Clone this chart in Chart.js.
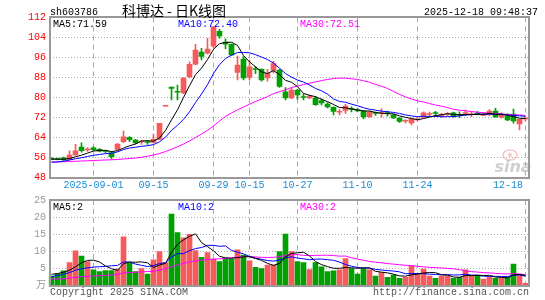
<!DOCTYPE html>
<html>
<head>
<meta charset="utf-8">
<script src="https://cdn.jsdelivr.net/npm/chart.js@4.4.1/dist/chart.umd.min.js"></script>
<style>
  html, body { margin: 0; padding: 0; background: #fff; }
  #wrap { position: relative; width: 545px; height: 300px; overflow: hidden; }
  canvas { position: absolute; left: 0; }
</style>
</head>
<body>
<div id="wrap">
  <canvas id="kChart" width="545" height="192" style="top:0"></canvas>
  <canvas id="volChart" width="545" height="108" style="top:192px"></canvas>
</div>
<script>
// trading days shown on the chart
const dates = [
  "2025-08-21","2025-08-22","2025-08-25","2025-08-26","2025-08-27","2025-08-28","2025-08-29",
  "2025-09-01","2025-09-02","2025-09-03","2025-09-04","2025-09-05",
  "2025-09-08","2025-09-09","2025-09-10","2025-09-11","2025-09-12",
  "2025-09-15","2025-09-16","2025-09-17","2025-09-18","2025-09-19",
  "2025-09-22","2025-09-23","2025-09-24","2025-09-25","2025-09-26",
  "2025-09-29","2025-09-30","2025-10-09","2025-10-10",
  "2025-10-13","2025-10-14","2025-10-15","2025-10-16","2025-10-17",
  "2025-10-20","2025-10-21","2025-10-22","2025-10-23","2025-10-24",
  "2025-10-27","2025-10-28","2025-10-29","2025-10-30","2025-10-31",
  "2025-11-03","2025-11-04","2025-11-05","2025-11-06","2025-11-07",
  "2025-11-10","2025-11-11","2025-11-12","2025-11-13","2025-11-14",
  "2025-11-17","2025-11-18","2025-11-19","2025-11-20","2025-11-21",
  "2025-11-24","2025-11-25","2025-11-26","2025-11-27","2025-11-28",
  "2025-12-01","2025-12-02","2025-12-03","2025-12-04","2025-12-05",
  "2025-12-08","2025-12-09","2025-12-10","2025-12-11","2025-12-12",
  "2025-12-15","2025-12-16","2025-12-17","2025-12-18"
];

const opens = [
  55.6, 55.5, 55.9, 55.2, 57.0, 60.2, 59.0, 59.9, 59.3, 58.6,
  58.0, 59.2, 62.3, 64.1, 63.0, 62.2, 62.4, 62.0, 63.3, 76.5,
  84.2, 82.3, 81.8, 88.3, 93.3, 98.2, 97.7, 100.5, 106.5, 102.2,
  101.3, 90.0, 95.4, 88.0, 91.6, 91.3, 87.8, 90.8, 91.0, 82.3,
  79.8, 83.0, 80.3, 79.8, 79.8, 78.8, 77.4, 76.1, 74.1, 74.8,
  75.6, 75.1, 74.6, 72.3, 73.9, 73.6, 73.9, 73.0, 71.8, 70.5,
  69.8, 71.0, 72.1, 73.2, 73.8, 72.8, 73.2, 73.9, 73.2, 73.6,
  73.1, 73.7, 72.8, 73.1, 74.6, 72.1, 72.6, 73.4, 69.4, 71.4
];
const highs = [
  56.0, 55.8, 56.2, 58.7, 61.3, 61.9, 60.0, 60.3, 59.6, 59.0,
  58.4, 61.6, 66.6, 64.4, 63.3, 63.0, 62.8, 65.4, 69.7, 76.7,
  84.2, 85.0, 88.0, 94.3, 101.3, 99.7, 103.7, 108.5, 107.3, 103.5,
  101.5, 96.6, 96.4, 95.0, 92.5, 91.5, 91.3, 94.5, 91.3, 84.0,
  84.0, 83.3, 81.5, 81.0, 80.5, 79.5, 78.0, 76.3, 75.2, 77.3,
  76.3, 75.6, 74.8, 74.6, 74.3, 75.5, 74.6, 73.4, 72.0, 71.2,
  71.8, 71.8, 74.3, 74.2, 74.5, 73.7, 74.0, 74.2, 74.3, 75.0,
  74.4, 74.4, 74.0, 75.2, 75.7, 73.9, 73.6, 75.4, 71.5, 72.0
];
const lows = [
  55.0, 55.0, 54.8, 55.0, 56.8, 58.1, 58.4, 58.6, 58.2, 57.9,
  55.4, 58.8, 61.9, 62.3, 61.5, 61.2, 61.2, 61.8, 63.0, 76.5,
  79.0, 79.0, 81.5, 87.8, 93.0, 95.0, 97.3, 100.0, 103.7, 99.5,
  96.8, 87.0, 87.0, 87.0, 89.5, 86.5, 86.5, 89.8, 84.0, 79.0,
  79.5, 79.3, 79.0, 79.5, 76.8, 77.0, 75.8, 73.0, 73.0, 73.6,
  74.2, 74.3, 71.5, 72.0, 72.8, 72.1, 72.5, 71.5, 70.0, 69.8,
  69.0, 70.5, 71.8, 72.5, 72.5, 72.0, 72.7, 72.0, 72.0, 72.8,
  72.3, 73.0, 72.7, 72.6, 72.0, 71.7, 70.7, 69.7, 67.0, 70.6
];
const closes = [
  55.4, 55.3, 55.0, 57.0, 58.7, 58.7, 59.4, 59.1, 58.5, 58.4,
  56.3, 61.4, 64.3, 63.1, 61.8, 62.4, 62.0, 63.3, 69.7, 76.7,
  83.6, 82.1, 87.8, 93.3, 99.0, 96.4, 99.4, 108.3, 104.6, 101.3,
  97.0, 93.0, 87.8, 92.3, 91.2, 87.0, 89.6, 93.6, 84.4, 79.8,
  83.0, 81.0, 80.0, 80.6, 77.1, 77.8, 76.2, 74.4, 74.4, 76.6,
  75.3, 74.6, 72.2, 74.3, 73.6, 73.9, 73.6, 71.8, 70.4, 70.7,
  71.4, 71.4, 73.9, 73.5, 73.6, 73.1, 73.5, 72.4, 72.9, 74.0,
  73.3, 73.4, 73.0, 74.6, 72.2, 73.4, 71.0, 70.6, 71.3, 71.6
];
// volume, in 万
const volumes = [
  2.9, 3.6, 4.4, 6.8, 10.2, 8.7, 7.1, 4.7, 4.2, 4.5,
  4.5, 4.9, 14.3, 6.6, 4.2, 5.1, 3.5, 7.6, 10.0, 6.8,
  20.9, 15.5, 14.0, 15.0, 10.3, 8.3, 9.7, 7.8, 7.1, 8.0,
  7.8, 10.5, 9.0, 7.3, 5.4, 5.1, 6.1, 6.1, 10.0, 15.1,
  10.0, 7.1, 6.8, 4.8, 6.8, 5.6, 4.2, 4.4, 4.7, 8.0,
  5.1, 3.5, 5.1, 4.7, 2.9, 3.9, 2.5, 3.2, 2.2, 2.5,
  5.8, 3.5, 4.9, 2.9, 2.2, 2.9, 2.9, 2.2, 2.5, 4.7,
  2.9, 3.2, 2.0, 2.7, 2.2, 2.4, 2.5, 6.4, 3.2, 0.8
];

const ma5Head = [55.3, 55.3, 55.3, 55.6];
const ma10Head = [54.1, 54.2, 54.5, 55.0, 55.5, 55.9, 56.4, 56.9, 57.2];
const ma30Head = [54.2, 54.3, 54.3, 54.4, 54.5, 54.6, 54.7, 54.8, 54.9, 55.0,
  55.1, 55.2, 55.4, 55.6, 55.8, 56.1, 56.5, 57.0, 57.6, 58.4,
  59.3, 60.3, 61.4, 62.6, 64.0, 65.4, 66.9, 68.6, 70.6];
const vma5Head = [3.4, 3.6, 4.0, 4.6];
const vma10Head = [2.7, 3.0, 3.4, 3.9, 4.6, 5.0, 5.3, 5.5, 5.6];
const vma30Head = [2.0, 2.0, 2.1, 2.3, 2.5, 2.7, 2.8, 2.9, 3.0, 3.1,
  3.2, 3.4, 3.8, 3.9, 4.0, 4.1, 4.2, 4.3, 4.6, 5.0,
  5.6, 6.1, 6.6, 7.0, 7.3, 7.5, 7.7, 7.8, 7.9];

const priceTicks = [112, 104, 96, 88, 80, 72, 64, 56, 48];
const volTicks = [25, 20, 15, 10, 5];
const xTickDates = ["2025-09-01", "2025-09-15", "2025-09-29", "2025-10-15", "2025-10-27", "2025-11-10", "2025-11-24", "2025-12-18"];
const xTickLabels = ["2025-09-01", "09-15", "09-29", "10-15", "10-27", "11-10", "11-24", "12-18"];
const maTexts = ["MA5:71.59", "MA10:72.40", "MA30:72.51"];
const volMaTexts = ["MA5:2", "MA10:2", "MA30:2"];

const UP = "#f75a5a";
const DOWN = "#00a000";
const MONO = '10px "Liberation Mono", "DejaVu Sans Mono", monospace';
const GRID = "#aaa";
const FRAME = "#999";
const PLOT_L = 50, PLOT_R = 529;

function movingAverage(values, n, head) {
  return values.map(function (v, i) {
    if (i < n - 1) return head[i];
    let sum = 0;
    for (let k = i - n + 1; k <= i; k++) sum += values[k];
    return sum / n;
  });
}

const candleColors = closes.map((c, i) => (c >= opens[i] ? UP : DOWN));
const tickIdx = xTickDates.map((d) => dates.indexOf(d));

function lineSet(data, color) {
  return {
    type: "line", data: data, borderColor: color, borderWidth: 1,
    pointRadius: 0, pointHoverRadius: 0, fill: false, tension: 0, order: 0
  };
}

function drawGrid(chart, ticks) {
  const { ctx, chartArea, scales } = chart;
  ctx.save();
  ctx.strokeStyle = GRID;
  ctx.lineWidth = 1;
  ctx.setLineDash([1, 2]);
  ticks.forEach((t) => {
    const y = Math.floor(scales.y.getPixelForValue(t)) + 0.5;
    if (y <= chartArea.top + 1 || y >= chartArea.bottom - 1) return;
    ctx.beginPath();
    ctx.moveTo(PLOT_L, y);
    ctx.lineTo(PLOT_R, y);
    ctx.stroke();
  });
  ctx.setLineDash([5, 4]);
  tickIdx.forEach((idx) => {
    const x = Math.floor(scales.x.getPixelForValue(idx)) + 0.5;
    ctx.beginPath();
    ctx.moveTo(x, chartArea.top);
    ctx.lineTo(x, chartArea.bottom);
    ctx.stroke();
  });
  ctx.restore();
}

function drawFrame(ctx, top, bottom) {
  ctx.save();
  ctx.setLineDash([]);
  ctx.strokeStyle = FRAME;
  ctx.lineWidth = 2;
  ctx.strokeRect(PLOT_L, top, PLOT_R - PLOT_L, bottom - top);
  ctx.restore();
}

const kDecor = {
  id: "kDecor",
  beforeDatasetsDraw(chart) {
    drawGrid(chart, priceTicks);
    const ctx = chart.ctx;
    // sina watermark
    ctx.save();
    ctx.strokeStyle = "rgba(235,130,130,0.45)";
    ctx.fillStyle = "rgba(235,130,130,0.45)";
    ctx.lineWidth = 1.5;
    ctx.beginPath();
    ctx.ellipse(510, 155, 7, 5, 0, 0, Math.PI * 2);
    ctx.stroke();
    ctx.beginPath();
    ctx.arc(510, 155, 2, 0, Math.PI * 2);
    ctx.fill();
    ctx.font = 'italic bold 16px "DejaVu Sans", sans-serif';
    ctx.fillStyle = "rgba(160,160,160,0.5)";
    ctx.textAlign = "center";
    ctx.textBaseline = "alphabetic";
    ctx.fillText("sina", 513, 172);
    ctx.restore();
  },
  afterDatasetsDraw(chart) {
    drawFrame(chart.ctx, 17, 178);
  },
  afterDraw(chart) {
    const { ctx, scales } = chart;
    ctx.save();
    ctx.font = MONO;
    ctx.textBaseline = "middle";

    // header
    ctx.fillStyle = "#000";
    ctx.textAlign = "left";
    ctx.fillText("sh603786", 50, 12);
    ctx.textAlign = "right";
    ctx.fillText("2025-12-18 09:48:37", 538, 12);
    ctx.font = '14px "Noto Sans CJK SC", sans-serif';
    ctx.textAlign = "center";
    ctx.fillText("科博达 - 日K线图", 174, 11);

    // price axis
    ctx.font = MONO;
    ctx.fillStyle = "#f00";
    ctx.textAlign = "right";
    priceTicks.forEach((t) => ctx.fillText(String(t), 46, scales.y.getPixelForValue(t)));

    // date axis
    ctx.fillStyle = "#1a8ad4";
    ctx.textAlign = "center";
    tickIdx.forEach((idx, k) => {
      const label = xTickLabels[k];
      const w = ctx.measureText(label).width;
      const x = Math.min(scales.x.getPixelForValue(idx), PLOT_R - 6 - w / 2);
      ctx.fillText(label, x, 185);
    });

    // MA legend
    ctx.textAlign = "left";
    const maColors = ["#000", "#0000ff", "#ff00ff"];
    const maX = [53, 178, 300];
    maTexts.forEach((t, k) => {
      ctx.fillStyle = maColors[k];
      ctx.fillText(t, maX[k], 24.5);
    });
    ctx.restore();
  }
};

const volDecor = {
  id: "volDecor",
  beforeDatasetsDraw(chart) {
    drawGrid(chart, volTicks);
  },
  afterDatasetsDraw(chart) {
    drawFrame(chart.ctx, 8, 94);
  },
  afterDraw(chart) {
    const { ctx, scales } = chart;
    ctx.save();
    ctx.font = MONO;
    ctx.textBaseline = "middle";
    ctx.fillStyle = "#999";
    ctx.textAlign = "right";
    volTicks.forEach((t) => ctx.fillText(String(t), 46, scales.y.getPixelForValue(t)));
    ctx.font = '10px "Noto Sans CJK SC", sans-serif';
    ctx.fillText("万", 46, 92);

    ctx.font = MONO;
    ctx.textAlign = "left";
    const maColors = ["#000", "#0000ff", "#ff00ff"];
    const maX = [53, 178, 300];
    volMaTexts.forEach((t, k) => {
      ctx.fillStyle = maColors[k];
      ctx.fillText(t, maX[k], 15);
    });

    ctx.fillStyle = "#555";
    ctx.fillText("Copyright 2025 SINA.COM", 50, 100.5);
    ctx.textAlign = "right";
    ctx.fillText("http://finance.sina.com.cn", 529, 100.5);
    ctx.restore();
  }
};

const baseOptions = {
  responsive: false,
  animation: false,
  devicePixelRatio: 1,
  events: [],
  plugins: { legend: { display: false }, tooltip: { enabled: false } }
};

new Chart(document.getElementById("kChart"), {
  type: "bar",
  data: {
    labels: dates,
    datasets: [
      lineSet(movingAverage(closes, 5, ma5Head), "#000"),
      lineSet(movingAverage(closes, 10, ma10Head), "#0000ff"),
      lineSet(movingAverage(closes, 30, ma30Head), "#ff00ff"),
      {
        data: dates.map((d, i) => [lows[i], highs[i]]),
        backgroundColor: candleColors, barThickness: 1, grouped: false, order: 2
      },
      {
        data: dates.map((d, i) => [opens[i], closes[i]]),
        backgroundColor: candleColors, barThickness: 5, minBarLength: 1, grouped: false, order: 1
      }
    ]
  },
  options: Object.assign({}, baseOptions, {
    layout: { padding: { left: 48.5, right: 16.5, top: 17.5, bottom: 14.5 } },
    scales: {
      x: { display: false, offset: true },
      y: { display: false, min: 48, max: 112 }
    }
  }),
  plugins: [kDecor]
});

new Chart(document.getElementById("volChart"), {
  type: "bar",
  data: {
    labels: dates,
    datasets: [
      lineSet(movingAverage(volumes, 5, vma5Head), "#000"),
      lineSet(movingAverage(volumes, 10, vma10Head), "#0000ff"),
      lineSet(movingAverage(volumes, 30, vma30Head), "#ff00ff"),
      { data: volumes, backgroundColor: candleColors, barThickness: 5, grouped: false, order: 1 }
    ]
  },
  options: Object.assign({}, baseOptions, {
    layout: { padding: { left: 48.5, right: 16.5, top: 8, bottom: 14 } },
    scales: {
      x: { display: false, offset: true },
      y: { display: false, min: 0, max: 25 }
    }
  }),
  plugins: [volDecor]
});
</script>
</body>
</html>
